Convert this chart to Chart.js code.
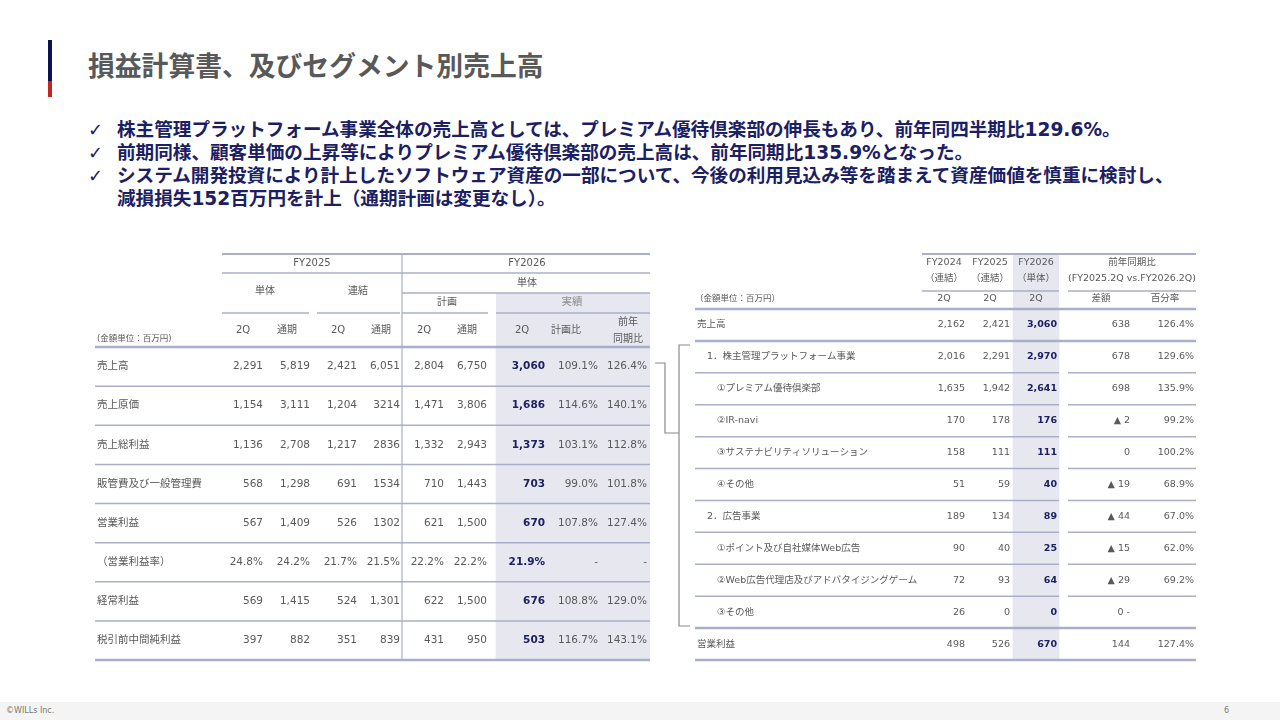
<!DOCTYPE html>
<html><head><meta charset="utf-8">
<script src="https://cdn.jsdelivr.net/npm/chart.js@4.4.1/dist/chart.umd.min.js"></script>
<style>
html,body{margin:0;padding:0;background:#fff;width:1280px;height:720px;overflow:hidden;position:relative;font-family:'Noto Sans CJK JP',sans-serif}
.abs{position:absolute}
#title{left:88px;top:51px;font-weight:bold;font-size:26.8px;line-height:28px;color:#595959;white-space:nowrap;font-family:'Noto Sans CJK JP',sans-serif}
#bullets{left:88px;top:118px;color:#1b2064;font-family:'DejaVu Sans','Noto Sans CJK JP',sans-serif}
#bullets div{position:relative;padding-left:29px;font-weight:bold;font-size:18.6px;line-height:23px;white-space:nowrap}
#bullets div span.ck{position:absolute;left:0;top:0;font-weight:normal;font-size:18px}
#footer{left:0;top:702px;width:1280px;height:18px;background:#f4f4f4;font-family:'DejaVu Sans',sans-serif;font-size:8px;color:#777}
canvas{position:absolute}
</style></head><body>
<div class="abs" style="left:48px;top:40px;width:4px;height:41px;background:#0d1150"></div>
<div class="abs" style="left:48px;top:81px;width:4px;height:16px;background:#c0281e"></div>
<div id="title" class="abs">損益計算書、及びセグメント別売上高</div>
<div id="bullets" class="abs">
<div><span class="ck">✓</span>株主管理プラットフォーム事業全体の売上高としては、プレミアム優待倶楽部の伸長もあり、前年同四半期比129.6%。</div>
<div><span class="ck">✓</span>前期同様、顧客単価の上昇等によりプレミアム優待倶楽部の売上高は、前年同期比135.9%となった。</div>
<div><span class="ck">✓</span>システム開発投資により計上したソフトウェア資産の一部について、今後の利用見込み等を踏まえて資産価値を慎重に検討し、</div>
<div>減損損失152百万円を計上（通期計画は変更なし）。</div>
</div>
<canvas id="plChart" width="570" height="430" style="left:90px;top:240px;width:570px;height:430px"></canvas>
<canvas id="segChart" width="520" height="430" style="left:690px;top:240px;width:520px;height:430px"></canvas>
<svg class="abs" style="left:0;top:0" width="1280" height="720">
<polyline points="655,363 665,363 665,433 679,433" fill="none" stroke="#8a8a8a" stroke-width="1.2"/>
<polyline points="690,345 679,345 679,626 690,626" fill="none" stroke="#8a8a8a" stroke-width="1.2"/>
</svg>
<div id="footer" class="abs"><span class="abs" style="left:6px;top:4px">©WILLs Inc.</span><span class="abs" style="left:1224px;top:4px">6</span></div>
<script>
// ---------- DATA: left table (損益計算書) ----------
const plRows = ['売上高','売上原価','売上総利益','販管費及び一般管理費','営業利益','（営業利益率）','経常利益','税引前中間純利益'];
const fy25Solo2Q   = ['2,291','1,154','1,136','568','567','24.8%','569','397'];
const fy25SoloFull = ['5,819','3,111','2,708','1,298','1,409','24.2%','1,415','882'];
const fy25Cons2Q   = ['2,421','1,204','1,217','691','526','21.7%','524','351'];
const fy25ConsFull = ['6,051','3214','2836','1534','1302','21.5%','1,301','839'];
const fy26Plan2Q   = ['2,804','1,471','1,332','710','621','22.2%','622','431'];
const fy26PlanFull = ['6,750','3,806','2,943','1,443','1,500','22.2%','1,500','950'];
const fy26Act2Q    = ['3,060','1,686','1,373','703','670','21.9%','676','503'];
const fy26VsPlan   = ['109.1%','114.6%','103.1%','99.0%','107.8%','-','108.8%','116.7%'];
const fy26VsPrev   = ['126.4%','140.1%','112.8%','101.8%','127.4%','-','129.0%','143.1%'];
const plColHeads = ['2Q','通期','2Q','通期','2Q','通期','2Q','計画比','前年|同期比'];
const plYearHeads = ['FY2025','FY2026'];
const plGroupHeads = ['単体','連結','単体','計画','実績'];
const unitLabel = '(金額単位：百万円)';

// ---------- DATA: right table (セグメント別売上高) ----------
const segRows = ['売上高','1．株主管理プラットフォーム事業','①プレミアム優待倶楽部','②IR-navi','③サステナビリティソリューション','④その他','2．広告事業','①ポイント及び自社媒体Web広告','②Web広告代理店及びアドバタイジングゲーム','③その他','営業利益'];
const segLevel = [0,1,2,2,2,2,1,2,2,2,0];
const seg24 = ['2,162','2,016','1,635','170','158','51','189','90','72','26','498'];
const seg25 = ['2,421','2,291','1,942','178','111','59','134','40','93','0','526'];
const seg26 = ['3,060','2,970','2,641','176','111','40','89','25','64','0','670'];
const segDiff = ['638','678','698','▲ 2','0','▲ 19','▲ 44','▲ 15','▲ 29','0 -','144'];
const segPct  = ['126.4%','129.6%','135.9%','99.2%','100.2%','68.9%','67.0%','62.0%','69.2%','','127.4%'];
const segYearHeads = ['FY2024','FY2025','FY2026','前年同期比'];
const segTypeHeads = ['（連結）','（連結）','（単体）','(FY2025.2Q vs.FY2026.2Q)'];
const segColHeads = ['2Q','2Q','2Q','差額','百分率'];
const segUnitLabel = '（金額単位：百万円）';

// ---------- STYLE / LAYOUT ----------
const LINE = '#a9afcb', TXT = '#595959', NAVY = '#1c2163', SHADE = '#e6e7ef', GREY = '#8f8f8f';
const FONT = "'DejaVu Sans','Noto Sans CJK JP',sans-serif";
Chart.defaults.font.family = FONT;

const LX = { width:555, labelX:2, right:[168,215,262,305,349,392,450,503,552], hc:[148,192,243,286,329,372,427,471,533],
  years:[217,432], groups:[170,263,432,352,477], divider:307, headStart:127, shade:[401,555],
  seg:[[127,214],[222,305],[307,393],[401,555]] };
const LY = { top:-93, year:-84, l1:-74, grp25:-56, solo26:-64, l2:-54, sub:-45, l3:-34, col:-17, colA:-25, colB:-8, unit:-8 };

const RX = { width:501, indent:[2,12,22], right:[270,315,362,435,499], hc:[249,295,341,406,470], years:[249,295,341,437],
  headStart:227, shade:[318,364], segA:[227,364], segB:[373,501], gapA:364, gapB:373 };
const RY = { top:-55, year:-46, type:-30, l1:-18, col:-10 };

function txt(ctx, s, x, y, align, o) {
  o = o || {};
  ctx.save();
  ctx.font = (o.bold ? 'bold ' : '') + (o.size || 10.5) + 'px ' + FONT;
  ctx.fillStyle = o.color || TXT; ctx.textAlign = align; ctx.textBaseline = 'middle';
  ctx.fillText(s, x, y); ctx.restore();
}
function hline(ctx, x1, x2, y, w, c) { ctx.save(); ctx.strokeStyle = c || LINE; ctx.lineWidth = w; ctx.beginPath(); ctx.moveTo(x1, y); ctx.lineTo(x2, y); ctx.stroke(); ctx.restore(); }
function vline(ctx, x, y1, y2, w, c) { ctx.save(); ctx.strokeStyle = c || LINE; ctx.lineWidth = w; ctx.beginPath(); ctx.moveTo(x, y1); ctx.lineTo(x, y2); ctx.stroke(); ctx.restore(); }

const plCols = [fy25Solo2Q, fy25SoloFull, fy25Cons2Q, fy25ConsFull, fy26Plan2Q, fy26PlanFull, fy26Act2Q, fy26VsPlan, fy26VsPrev];
const segCols = [seg24, seg25, seg26, segDiff, segPct];

const plPlugin = {
  id: 'plTable',
  beforeDatasetsDraw(chart) {
    const { ctx, chartArea: a, scales: { x } } = chart;
    const x1 = x.getPixelForValue(LX.shade[0]), x2 = x.getPixelForValue(LX.shade[1]);
    ctx.save(); ctx.fillStyle = SHADE; ctx.fillRect(x1, a.top + LY.l2, x2 - x1, -LY.l2); ctx.restore();
  },
  afterDatasetsDraw(chart) {
    const { ctx, chartArea: a, scales: { x, y } } = chart;
    const X = v => x.getPixelForValue(v), T = a.top;
    hline(ctx, X(LX.headStart), X(LX.width), T + LY.top, 2);
    hline(ctx, X(LX.headStart), X(LX.width), T + LY.l1, 1.5);
    hline(ctx, X(LX.divider), X(LX.width), T + LY.l2, 1.5);
    LX.seg.forEach(s => hline(ctx, X(s[0]), X(s[1]), T + LY.l3, 1.5));
    txt(ctx, plYearHeads[0], X(LX.years[0]), T + LY.year, 'center', { size: 10 });
    txt(ctx, plYearHeads[1], X(LX.years[1]), T + LY.year, 'center', { size: 10 });
    txt(ctx, plGroupHeads[0], X(LX.groups[0]), T + LY.grp25, 'center', { size: 10 });
    txt(ctx, plGroupHeads[1], X(LX.groups[1]), T + LY.grp25, 'center', { size: 10 });
    txt(ctx, plGroupHeads[2], X(LX.groups[2]), T + LY.solo26, 'center', { size: 10 });
    txt(ctx, plGroupHeads[3], X(LX.groups[3]), T + LY.sub, 'center', { size: 10 });
    txt(ctx, plGroupHeads[4], X(LX.groups[4]), T + LY.sub, 'center', { size: 10.5, color: GREY });
    plColHeads.forEach((h, j) => {
      const parts = h.split('|');
      if (parts.length === 1) txt(ctx, h, X(LX.hc[j]), T + LY.col, 'center', { size: 10 });
      else { txt(ctx, parts[0], X(LX.hc[j]), T + LY.colA, 'center', { size: 10 }); txt(ctx, parts[1], X(LX.hc[j]), T + LY.colB, 'center', { size: 10 }); }
    });
    txt(ctx, unitLabel, X(LX.labelX), T + LY.unit, 'left', { size: 8.5 });
    const n = plRows.length, band = (a.bottom - a.top) / n;
    plRows.forEach((lab, i) => {
      const cy = y.getPixelForValue(i);
      txt(ctx, lab, X(LX.labelX), cy, 'left');
      plCols.forEach((col, j) => txt(ctx, col[i], X(LX.right[j]), cy, 'right', { bold: j === 6, color: j === 6 ? NAVY : TXT }));
    });
    for (let i = 1; i <= n; i++) hline(ctx, X(0), X(LX.width), a.top + band * i, i === n ? 2.5 : 1.5);
    hline(ctx, X(0), X(LX.width), T, 2.5);
    vline(ctx, X(LX.divider), T + LY.top, a.bottom, 1.2);
  }
};

const segPlugin = {
  id: 'segTable',
  beforeDatasetsDraw(chart) {
    const { ctx, chartArea: a, scales: { x } } = chart;
    const x1 = x.getPixelForValue(RX.shade[0]), x2 = x.getPixelForValue(RX.shade[1]);
    ctx.save(); ctx.fillStyle = SHADE; ctx.fillRect(x1, a.top + RY.top, x2 - x1, -RY.top); ctx.restore();
  },
  afterDatasetsDraw(chart) {
    const { ctx, chartArea: a, scales: { x, y } } = chart;
    const X = v => x.getPixelForValue(v), T = a.top;
    hline(ctx, X(RX.headStart), X(RX.width), T + RY.top, 2);
    hline(ctx, X(RX.segA[0]), X(RX.segA[1]), T + RY.l1, 1.5);
    hline(ctx, X(RX.segB[0]), X(RX.segB[1]), T + RY.l1, 1.5);
    segYearHeads.forEach((h, j) => {
      txt(ctx, h, X(RX.years[j]), T + RY.year, 'center', { size: 9.5 });
      txt(ctx, segTypeHeads[j], X(RX.years[j]), T + RY.type, 'center', { size: 9.5 });
    });
    segColHeads.forEach((h, j) => txt(ctx, h, X(RX.hc[j]), T + RY.col, 'center', { size: 9.5 }));
    txt(ctx, segUnitLabel, X(0), T + RY.col, 'left', { size: 8.5 });
    const n = segRows.length, band = (a.bottom - a.top) / n;
    segRows.forEach((lab, i) => {
      const cy = y.getPixelForValue(i);
      txt(ctx, lab, X(RX.indent[segLevel[i]]), cy, 'left', { size: 9.5 });
      segCols.forEach((col, j) => txt(ctx, col[i], X(RX.right[j]), cy, 'right', { size: 9.5, bold: j === 2, color: j === 2 ? NAVY : TXT }));
    });
    hline(ctx, X(0), X(RX.width), T, 2.5);
    for (let i = 1; i <= n; i++) {
      const yy = a.top + band * i;
      if (i === 1 || i === n - 1 || i === n) hline(ctx, X(0), X(RX.width), yy, 2.5);
      else { hline(ctx, X(0), X(RX.gapA), yy, 1.5); hline(ctx, X(RX.gapB), X(RX.width), yy, 1.5); }
    }
  }
};

function tableChart(id, rows, shade, width, pad, plugin) {
  return new Chart(document.getElementById(id), {
    type: 'bar',
    data: { labels: rows, datasets: [{ data: rows.map(() => [shade[0], shade[1]]), backgroundColor: SHADE, borderWidth: 0, barPercentage: 1, categoryPercentage: 1 }] },
    options: {
      indexAxis: 'y', responsive: false, maintainAspectRatio: false, animation: false, events: [],
      layout: { padding: pad },
      plugins: { legend: { display: false }, tooltip: { enabled: false } },
      scales: { x: { type: 'linear', min: 0, max: width, display: false }, y: { type: 'category', offset: true, display: false } }
    },
    plugins: [plugin]
  });
}
tableChart('plChart', plRows, LX.shade, LX.width, { left: 5, right: 10, top: 107, bottom: 10 }, plPlugin);
tableChart('segChart', segRows, RX.shade, RX.width, { left: 5, right: 14, top: 69, bottom: 10 }, segPlugin);
</script>
</body></html>
